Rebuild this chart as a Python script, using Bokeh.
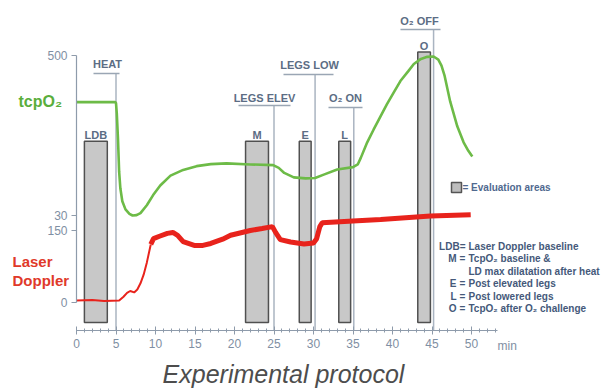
from bokeh.plotting import figure
from bokeh.models import Range1d, LinearAxis, FixedTicker, ColumnDataSource
from bokeh.embed import file_html
from bokeh.resources import INLINE
from bokeh.core.properties import value

# ---------------- data ----------------
x_major_ticks = [0, 5, 10, 15, 20, 25, 30, 35, 40, 45, 50]
x_minor_ticks = list(range(0, 54))
tcp_ticks = [30, 500]
ld_ticks = [0, 150]

tcp_time = [0, 4.9, 5.0, 5.1, 5.25, 5.4, 5.55, 5.8, 6.2, 6.7, 7.1, 7.6, 8.1, 8.9, 9.7,
            10.6, 11.9, 13.5, 15.2, 17.0, 19.0, 22.0, 24.9, 25.6, 26.3, 27.5, 29.0,
            30.2, 31.3, 33.0, 35.0, 35.6, 36.0, 36.8, 37.6, 38.5, 39.3, 40.2, 41.0,
            42.0, 42.7, 43.6, 44.4, 45.2, 45.8, 46.2, 46.6, 47.3, 48.2, 49.0, 49.6, 50.1]
tcp_vals = [363, 363, 360, 330, 255, 158, 110, 72, 48, 35, 30, 31, 37, 60, 90,
            118, 147, 164, 175, 181, 183, 180, 178, 170, 155, 142, 139,
            140, 150, 165, 172, 180, 200, 245, 282, 322, 357, 393, 425,
            454, 475, 490, 496, 497, 488, 470, 440, 365, 292, 245, 220, 203]

ld_time = [0, 2.0, 3.5, 5.4, 5.95, 6.4, 6.8, 7.3, 7.7, 8.1, 8.5, 8.9, 9.4, 9.75, 10.5,
           11.5, 12.2, 12.8, 13.5, 14.9, 16.0, 17.0, 18.5, 19.5, 22.0, 23.5, 24.8,
           25.2, 25.8, 27.1, 28.8, 30.0, 30.4, 30.8, 31.1, 35.0, 38.5, 44.8, 49.9]
ld_vals = [4, 5, 3, 4, 12, 20, 24, 21, 27, 40, 58, 83, 121, 133, 138,
           144, 146, 140, 127, 119, 119, 123, 132, 140, 150, 154, 158,
           146, 131, 126, 122, 124, 133, 158, 166, 170, 173, 180, 183]

bar_names = ["LDB", "M", "E", "L", "O"]
bar_start = [1.0, 21.4, 28.2, 33.2, 43.2]
bar_end = [3.9, 24.3, 29.7, 34.7, 44.8]
bar_top = [248, 248, 248, 248, 510]

event_names = ["HEAT", "LEGS ELEV", "LEGS LOW", "O\u2082 ON", "O\u2082 OFF"]
event_time = [5.0, 25.0, 30.2, 35.1, 45.2]

legend_keys = ["LDB=", "M", "", "E", "L", "O"]
legend_eq = ["", "=", "", "=", "=", "="]
legend_desc = ["Laser Doppler baseline", "TcpO\u2082 baseline &", "LD max dilatation after heat",
               "Post elevated legs", "Post lowered legs", "TcpO\u2082 after O\u2082 challenge"]

# ---------------- layout helpers (image pixel -> data) ----------------
def X(px):
    return (px - 76) / 7.9

def Y(py):
    return 500 - (py - 55) * 470 / 160

def LDY(py):
    return (302 - py) * 150 / 72

FONT = value("Liberation Sans")
SLATE = "#5c6d84"
AXC = "#8e9bab"
LBLC = "#7f8fa3"

W, H = 609, 390
y0, y1 = Y(H), Y(0)
l0, l1 = LDY(H), LDY(0)

p = figure(width=W, height=H, x_range=Range1d(X(0), X(W)), y_range=Range1d(y0, y1),
           output_backend="svg", toolbar_location=None, x_axis_type=None, y_axis_type=None,
           min_border_left=0, min_border_right=0, min_border_top=0, min_border_bottom=0)
p.outline_line_color = None
p.background_fill_color = "white"
p.border_fill_color = "white"
p.extra_y_ranges = {"ld": Range1d(l0, l1)}

# axes (fixed inside the frame)
xaxis = LinearAxis(ticker=FixedTicker(ticks=x_major_ticks, minor_ticks=x_minor_ticks),
                   bounds=(0, 53.3), fixed_location=Y(330))
xaxis.axis_line_color = AXC
xaxis.axis_line_width = 1.2
xaxis.major_tick_line_color = AXC
xaxis.minor_tick_line_color = AXC
xaxis.major_tick_in = 4
xaxis.major_tick_out = 4
xaxis.minor_tick_in = 2
xaxis.minor_tick_out = 2
xaxis.major_label_text_color = LBLC
xaxis.major_label_text_font = "Liberation Sans"
xaxis.major_label_text_font_size = "12px"
xaxis.major_label_standoff = 4
p.add_layout(xaxis, "below")

def ld_to_main(v):
    return round(y0 + (v - l0) / (l1 - l0) * (y1 - y0), 6)

ld_pos = [ld_to_main(v) for v in ld_ticks]
overrides = {float(t): str(t) for t in tcp_ticks}
for pos, v in zip(ld_pos, ld_ticks):
    overrides[pos] = str(v)
yaxis = LinearAxis(ticker=FixedTicker(ticks=[float(t) for t in tcp_ticks] + ld_pos, minor_ticks=[]),
                   bounds=(ld_pos[0], 500), major_label_overrides=overrides, fixed_location=0)
yaxis.axis_line_color = AXC
yaxis.axis_line_width = 1.2
yaxis.major_tick_line_color = AXC
yaxis.major_tick_in = 0
yaxis.major_tick_out = 5
yaxis.minor_tick_line_color = None
yaxis.major_label_text_color = LBLC
yaxis.major_label_text_font = "Liberation Sans"
yaxis.major_label_text_font_size = "12px"
yaxis.major_label_standoff = 4
p.add_layout(yaxis, "left")

# evaluation bars
bars = ColumnDataSource(dict(left=bar_start, right=bar_end, top=bar_top,
                             bottom=[Y(322)] * len(bar_top), name=bar_names,
                             cx=[(a + b) / 2 for a, b in zip(bar_start, bar_end)]))
p.quad(left="left", right="right", top="top", bottom="bottom", source=bars,
       fill_color="#c8c8c8", line_color="#505050", line_width=1.5)
p.text(x="cx", y="top", text="name", source=bars, text_font=FONT, text_font_style="bold",
       text_font_size="11px", text_color=SLATE, text_align="center", text_baseline="alphabetic",
       y_offset=-6)

# events
ev_label_px = [107, 264, 309, 345, 419]
ev_label_py = [63, 97, 64, 97, 20]
ev_ul_py = [73, 105, 74, 107, 29]
ev_ul_x0 = [93, 238, 283, 328, 400]
ev_ul_x1 = [119, 290, 333, 362, 440]
ev = ColumnDataSource(dict(t=event_time, name=event_names,
                           lx=[X(v) for v in ev_label_px], ly=[Y(v) for v in ev_label_py],
                           uy=[Y(v) for v in ev_ul_py],
                           ux0=[X(v) for v in ev_ul_x0], ux1=[X(v) for v in ev_ul_x1],
                           bot=[Y(330)] * len(event_time)))
p.segment(x0="t", y0="uy", x1="t", y1="bot", source=ev, line_color="#aab4c1", line_width=1.5)
p.segment(x0="ux0", y0="uy", x1="ux1", y1="uy", source=ev, line_color="#9aa6b4", line_width=1.5)
p.text(x="lx", y="ly", text="name", source=ev, text_font=FONT, text_font_style="bold",
       text_font_size="11px", text_color=SLATE, text_align="center", text_baseline="middle")

# curves
p.line(tcp_time, tcp_vals, line_color="#6dbb47", line_width=2.6)
split = 12
p.line(ld_time[:split + 1], ld_vals[:split + 1], y_range_name="ld", line_color="#e8231c", line_width=2)
p.line(ld_time[split:], ld_vals[split:], y_range_name="ld", line_color="#e8231c", line_width=5)

# legend
p.scatter([X(456)], [Y(187)], marker="square", size=10, fill_color="#bdbdbd", line_color="#555555", line_width=1.5)
p.text([X(462)], [Y(187)], text=["= Evaluation areas"], text_font=FONT, text_font_style="bold",
       text_font_size="10px", text_color="#50698f", text_align="left", text_baseline="middle")

rows_py = [245.8, 258.3, 270.8, 283.3, 295.8, 308.3]
key_px = [465, 456, 456, 456, 456, 456]
desc_px = [468, 468, 468, 468, 468, 468]
LEGC = "#45597a"
p.text([X(v) for v in key_px], [Y(v) for v in rows_py], text=legend_keys, text_font=FONT,
       text_font_style="bold", text_font_size="10px", text_color=LEGC, text_align="right",
       text_baseline="middle")
p.text([X(462)] * 6, [Y(v) for v in rows_py], text=legend_eq, text_font=FONT,
       text_font_style="bold", text_font_size="10px", text_color=LEGC, text_align="center",
       text_baseline="middle")
p.text([X(v) for v in desc_px], [Y(v) for v in rows_py], text=legend_desc, text_font=FONT,
       text_font_style="bold", text_font_size="10px", text_color=LEGC, text_align="left",
       text_baseline="middle")

# side labels, unit, caption
p.text([X(18)], [Y(101)], text=["tcpO\u2082"], text_font=FONT, text_font_style="bold",
       text_font_size="16px", text_color="#5aae3c", text_align="left", text_baseline="middle")
p.text([X(12), X(12)], [Y(261), Y(280)], text=["Laser", "Doppler"], text_font=FONT,
       text_font_style="bold", text_font_size="15px", text_color="#e0392a",
       text_align="left", text_baseline="middle")
p.text([X(497)], [Y(345)], text=["min"], text_font=FONT, text_font_size="12px",
       text_color=LBLC, text_align="left", text_baseline="middle")
p.text([X(283)], [Y(373)], text=["Experimental protocol"], text_font=FONT,
       text_font_style="italic", text_font_size="25px", text_color="#4d4d4d",
       text_align="center", text_baseline="middle")

open("out.html", "w").write(file_html(p, INLINE))
